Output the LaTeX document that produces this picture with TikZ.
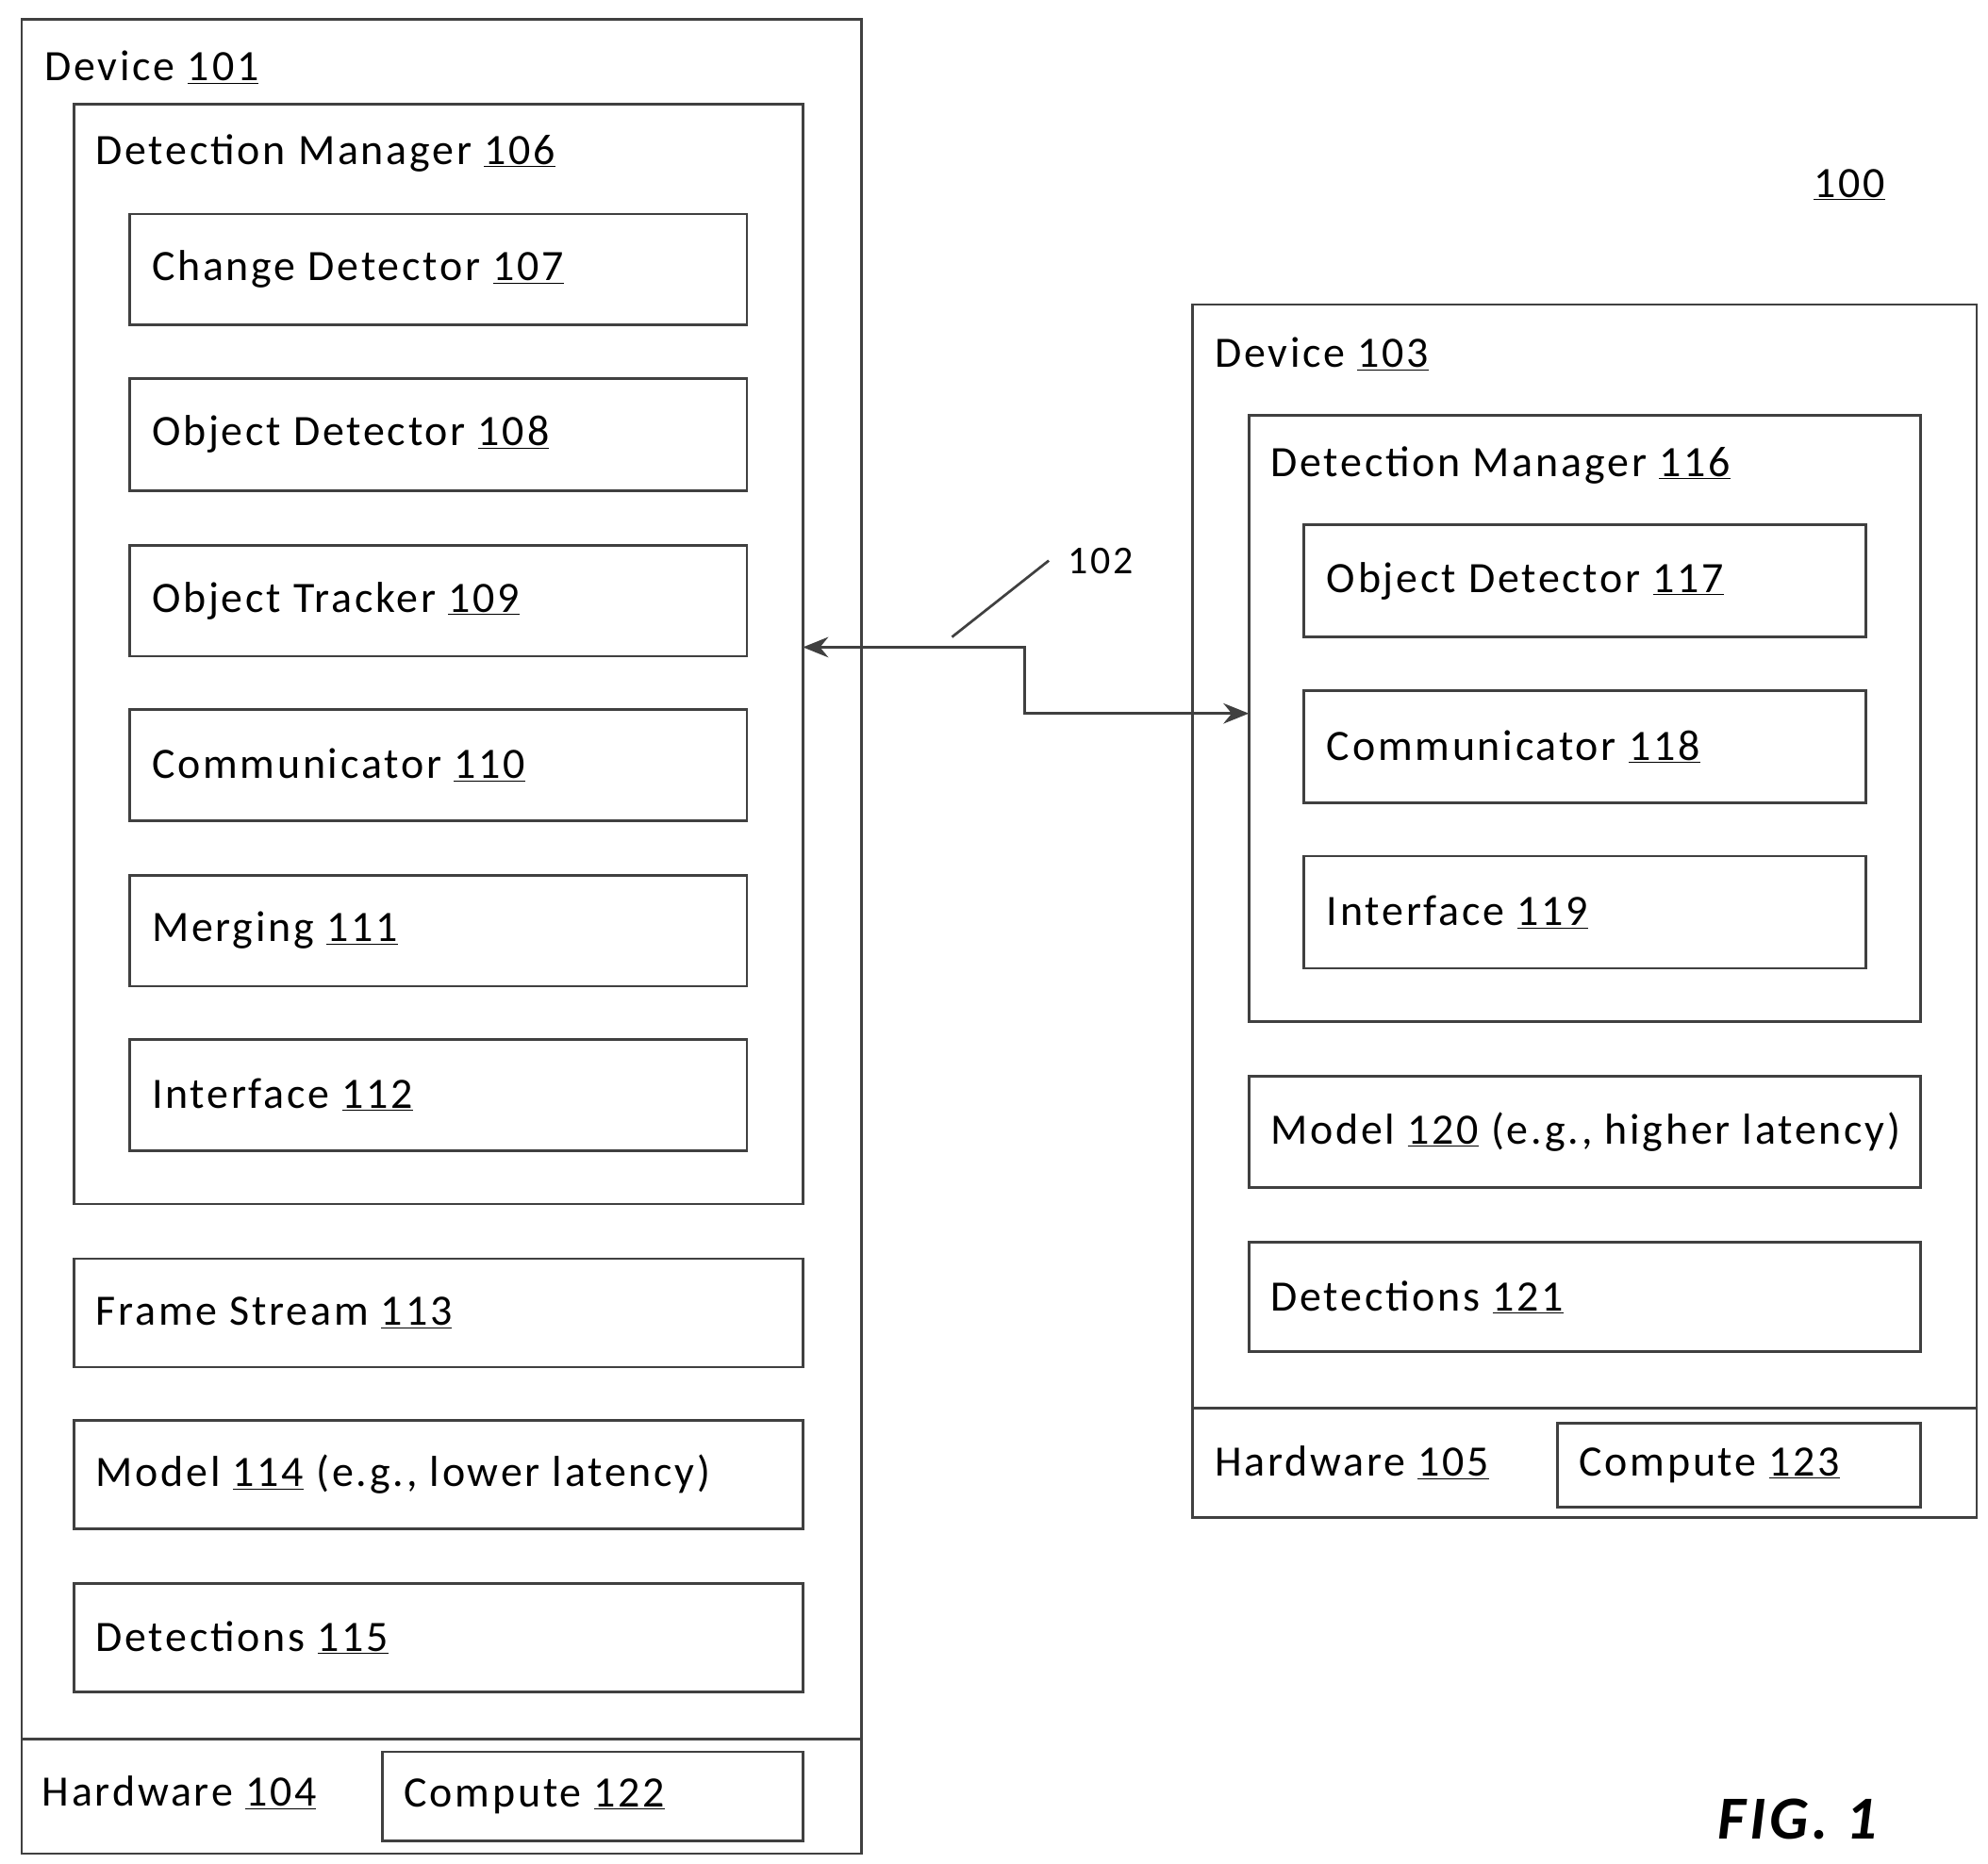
\documentclass[tikz,border=0pt]{standalone}
\usepackage{fontspec}
\setmainfont{Carlito}[LetterSpace=6]
\usetikzlibrary{arrows.meta}
\newcommand{\ul}[1]{\underline{#1}}
\begin{document}
\begin{tikzpicture}[x=1pt,y=-1pt,
  bx/.style={draw=black!75,line width=2pt},
  lb/.style={anchor=west,inner sep=0pt,font=\fontsize{34}{40}\selectfont}]
\useasboundingbox (0,0) rectangle (1560,1463);
% Device 101
\draw[bx] (17,15) rectangle (676,1455);
\draw[bx] (17,1365) -- (676,1365);
\node[lb] (d101) at (35,53) {Device \ul{101}};
\draw[bx] (58,82) rectangle (630,945);
\coordinate (dm106e) at (630,508);
\node[lb] (dm106) at (75,120) {Detection Manager \ul{106}};
\foreach \ya/\yb/\t [count=\i] in {168/255/{Change Detector \ul{107}},297/385/{Object Detector \ul{108}},428/515/{Object Tracker \ul{109}},557/644/{Communicator \ul{110}},687/774/{Merging \ul{111}},816/903/{Interface \ul{112}}}{
  \draw[bx] (102,\ya) rectangle (586,\yb);
  \node[lb] (a\i) at (119,{(\ya+\yb)/2}) {\t};
}
\foreach \ya/\yb/\t [count=\i] in {988/1073/{Frame Stream \ul{113}},1115/1200/{Model \ul{114} (e.g., lower latency)},1243/1328/{Detections \ul{115}}}{
  \draw[bx] (58,\ya) rectangle (630,\yb);
  \node[lb] (b\i) at (75,{(\ya+\yb)/2}) {\t};
}
\node[lb] (hw104) at (33,1407) {Hardware \ul{104}};
\draw[bx] (300,1375) rectangle (630,1445);
\node[lb] (c122) at (317,1410) {Compute \ul{122}};
% Device 103
\draw[bx] (936,239) rectangle (1551,1191);
\draw[bx] (936,1105) -- (1551,1105);
\node[lb] (d103) at (953,278) {Device \ul{103}};
\draw[bx] (980,326) rectangle (1507,802);
\coordinate (dm116w) at (980,560);
\node[lb] (dm116) at (997,365) {Detection Manager \ul{116}};
\foreach \ya/\yb/\t [count=\i] in {412/500/{Object Detector \ul{117}},542/630/{Communicator \ul{118}},672/760/{Interface \ul{119}}}{
  \draw[bx] (1023,\ya) rectangle (1464,\yb);
  \node[lb] (c\i) at (1041,{(\ya+\yb)/2}) {\t};
}
\foreach \ya/\yb/\t [count=\i] in {845/932/{Model \ul{120} (e.g., higher latency)},975/1061/{Detections \ul{121}}}{
  \draw[bx] (980,\ya) rectangle (1507,\yb);
  \node[lb] (e\i) at (997,{(\ya+\yb)/2}) {\t};
}
\node[lb] (hw105) at (953,1148) {Hardware \ul{105}};
\draw[bx] (1222,1117) rectangle (1507,1183);
\node[lb] (c123) at (1239,1150) {Compute \ul{123}};
% link
\draw[bx,{Stealth[length=20pt,width=16pt]}-{Stealth[length=20pt,width=16pt]}] (dm106e) -- (804,508) -- (804,560) -- (dm116w);
\coordinate (l1) at (747,500); \coordinate (l2) at (823,440);
\draw[bx] (l1) -- (l2);
\node[lb,font=\fontsize{31}{36}\selectfont] (n102) at (838,440) {102};
\node[lb] (n100) at (1423,145) {\ul{100}};
\node[lb,font=\fontsize{48}{54}\selectfont\bfseries\itshape] (fig) at (1348,1428) {FIG. 1};
\end{tikzpicture}
\end{document}
